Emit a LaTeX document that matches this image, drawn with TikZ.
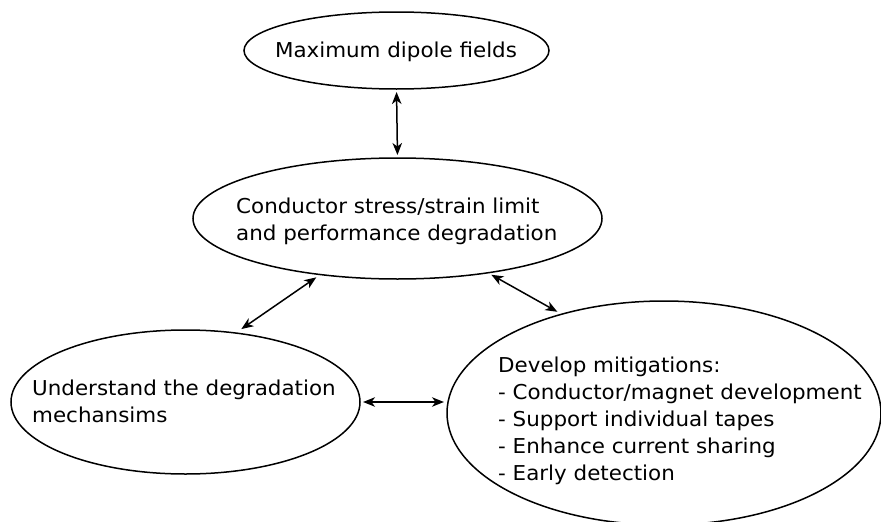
\documentclass[tikz,border=0pt]{standalone}
\usepackage{fontspec}
\setmainfont{DejaVu Sans}[FakeStretch=1.045]
\usetikzlibrary{shapes.geometric, arrows.meta}

\tikzset{
	oval/.style={draw, ellipse, line width=1.5pt, inner sep=0pt, outer sep=0pt},
	blurb/.style={inner sep=0pt, align=left, font=\fontsize{20.5}{27}\selectfont},
	link/.style={{Stealth[length=12pt, width=9.5pt, inset=3.5pt]}-{Stealth[length=12pt, width=9.5pt, inset=3.5pt]}, line width=1.5pt}
}

\begin{document}
\begin{tikzpicture}[x=1pt, y=-1pt]
			
			\useasboundingbox (0,0) rectangle (881,522);
			
			% ellipses
			\node[oval, minimum width=305pt, minimum height=77pt] (dipole) at (396.5,50.5) {};
			\node[oval, minimum width=409pt, minimum height=121pt] (cond) at (397.5,218.5) {};
			\node[oval, minimum width=349pt, minimum height=144pt] (under) at (185.5,402) {};
			\node[oval, minimum width=434pt, minimum height=224pt] (mitig) at (664,413) {};
			
			% texts
			\node[blurb, anchor=base] (dipoletxt) at (396,57) {Maximum dipole fields};
			\node[blurb, anchor=west] (condtxt) at (236,221) {Conductor stress/strain limit\\and performance degradation};
			\node[blurb, anchor=west] (undertxt) at (32,401) {Understand the degradation\\mechansims};
			\node[blurb, anchor=west] (mitigtxt) at (498,420.5) {Develop mitigations:\\- Conductor/magnet development\\- Support individual tapes\\- Enhance current sharing\\- Early detection};
			
			% arrows
			\draw[link, shorten <=3pt, shorten >=3pt] (dipole.south) -- (cond.north);
			\draw[link, shorten <=5pt, shorten >=7pt] (cond.216.7) -- (under.54);
			\draw[link, shorten <=4pt, shorten >=5pt] (cond.329.4) -- (mitig.136.6);
			\draw[link, shorten <=3pt, shorten >=3pt] (under.east) -- (under.east -| mitig.west);
			
\end{tikzpicture}
\end{document}
